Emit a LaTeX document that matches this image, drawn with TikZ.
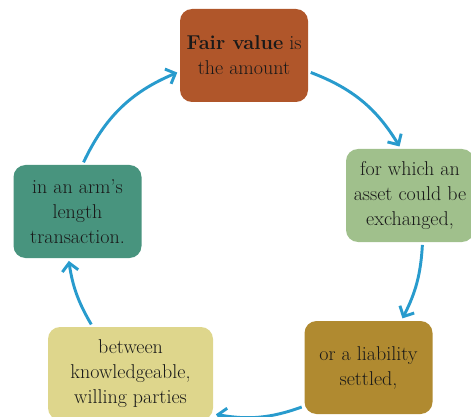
\documentclass[tikz,border=0pt]{standalone}
\usepackage{amsmath}
\usetikzlibrary{arrows.meta}
\definecolor{rust}{RGB}{176,86,42}
\definecolor{sage}{RGB}{160,192,140}
\definecolor{ochre}{RGB}{176,138,48}
\definecolor{khaki}{RGB}{222,214,140}
\definecolor{teal}{RGB}{72,148,126}
\definecolor{cycblue}{RGB}{40,155,205}
\begin{document}
\begin{tikzpicture}[x=0.75pt,y=-0.75pt,
    stepbox/.style={rounded corners=9pt,minimum width=96pt,minimum height=69.75pt,
        align=center,inner sep=1pt,text=black!90,font=\fontsize{15}{18.75}\selectfont},
    cyc/.style={draw=cycblue,line width=2.2pt,-{Straight Barb[length=6pt,width=12pt]},
        shorten <=2pt,shorten >=2pt}]
    \useasboundingbox (0,0) rectangle (471,417);
    \clip (0,0) rectangle (471,417);
    \node[stepbox,fill=rust] (fv) at (244,55.5) {\textbf{Fair value} is\\the amount};
    \node[stepbox,fill=sage] (ex) at (410,195.5) {for which an\\asset could be\\exchanged,};
    \node[stepbox,fill=ochre] (ls) at (368.5,367.5) {or a liability\\settled,};
    \node[stepbox,fill=khaki,minimum width=123.75pt] (wp) at (130.5,373.5) {between\\knowledgeable,\\willing parties};
    \node[stepbox,fill=teal] (arm) at (77.5,211.5) {in an arm's\\length\\transaction.};
    % arcs round the cycle
    \draw[cyc] (fv.-14) to[bend left=19] (ex.101);
    \draw[cyc] (ex.-75) to[bend left=12] (ls.55);
    \draw[cyc] (ls.211) to[bend left=15] (wp.-26);
    \draw[cyc] (wp.129) to[bend left=11] (arm.259);
    \draw[cyc] (arm.84) to[bend left=21] (fv.194);
\end{tikzpicture}
\end{document}
